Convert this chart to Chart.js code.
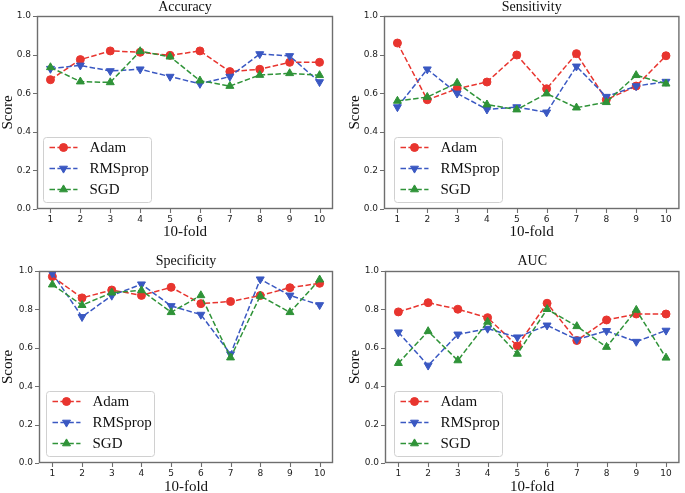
<!DOCTYPE html>
<html>
<head>
<meta charset="utf-8">
<script src="https://cdn.jsdelivr.net/npm/chart.js@4.4.1/dist/chart.umd.min.js"></script>
<style>
  body { margin: 0; background: #fff; width: 685px; height: 493px; position: relative; overflow: hidden; }
  .panel { position: absolute; }
</style>
</head>
<body>
<div class="panel" style="left:0;top:0;width:340px;height:245px"><canvas id="acc"></canvas></div>
<div class="panel" style="left:340px;top:0;width:345px;height:245px"><canvas id="sens"></canvas></div>
<div class="panel" style="left:0;top:245px;width:340px;height:248px"><canvas id="spec"></canvas></div>
<div class="panel" style="left:340px;top:245px;width:345px;height:248px"><canvas id="auc"></canvas></div>
<script>
const folds = [1, 2, 3, 4, 5, 6, 7, 8, 9, 10]
const optimizers = ["Adam", "RMSprop", "SGD"]
const yTicks = [0, 0.2, 0.4, 0.6, 0.8, 1.0]

const accAdam    = [0.670, 0.774, 0.819, 0.812, 0.796, 0.819, 0.712, 0.724, 0.760, 0.760]
const accRMSprop = [0.727, 0.744, 0.715, 0.724, 0.686, 0.649, 0.686, 0.803, 0.793, 0.658]
const accSGD     = [0.734, 0.660, 0.656, 0.817, 0.789, 0.665, 0.637, 0.694, 0.703, 0.693]

const sensAdam    = [0.860, 0.566, 0.623, 0.658, 0.798, 0.623, 0.805, 0.566, 0.637, 0.794]
const sensRMSprop = [0.528, 0.724, 0.599, 0.516, 0.528, 0.501, 0.739, 0.582, 0.637, 0.660]
const sensSGD     = [0.560, 0.580, 0.653, 0.541, 0.515, 0.598, 0.525, 0.553, 0.693, 0.649]

const specAdam    = [0.971, 0.860, 0.901, 0.873, 0.915, 0.830, 0.841, 0.872, 0.913, 0.936]
const specRMSprop = [0.988, 0.761, 0.872, 0.931, 0.818, 0.773, 0.567, 0.957, 0.873, 0.823]
const specSGD     = [0.929, 0.822, 0.887, 0.899, 0.785, 0.873, 0.549, 0.870, 0.785, 0.955]

const aucAdam    = [0.787, 0.835, 0.801, 0.757, 0.610, 0.832, 0.638, 0.745, 0.776, 0.776]
const aucRMSprop = [0.681, 0.508, 0.670, 0.700, 0.655, 0.717, 0.643, 0.688, 0.632, 0.690]
const aucSGD     = [0.520, 0.686, 0.534, 0.735, 0.568, 0.801, 0.712, 0.604, 0.797, 0.548]

const colors = ["#e8352f", "#3a58c2", "#2f9338"]
const markers = [
  { pointStyle: "circle", rotation: 0, radius: 4 },
  { pointStyle: "triangle", rotation: 180, radius: 4.6 },
  { pointStyle: "triangle", rotation: 0, radius: 4.6 }
]
const serif = "'Liberation Serif', 'DejaVu Serif', serif"
const sans = "'DejaVu Sans', sans-serif"
const spine = "#6e6e6e"

// frame, tick marks, title and the in-axes legend, drawn the matplotlib way
const panelDeco = {
  id: "panelDeco",
  afterDraw(chart, args, opts) {
    const ctx = chart.ctx
    const a = chart.chartArea
    const xs = chart.scales.x, ys = chart.scales.y
    ctx.save()
    ctx.setLineDash([])
    ctx.strokeStyle = spine
    ctx.lineWidth = 1.4
    ctx.strokeRect(a.left + 0.5, a.top + 0.5, a.right - a.left - 1, a.bottom - a.top - 1)
    ctx.lineWidth = 1.1
    ctx.beginPath()
    xs.ticks.forEach(tk => {
      const px = Math.round(xs.getPixelForValue(tk.value)) + 0.5
      ctx.moveTo(px, a.bottom)
      ctx.lineTo(px, a.bottom + 4)
    })
    ys.ticks.forEach(tk => {
      const py = Math.round(ys.getPixelForValue(tk.value)) + 0.5
      ctx.moveTo(a.left, py)
      ctx.lineTo(a.left - 4, py)
    })
    ctx.stroke()

    ctx.fillStyle = "#111"
    ctx.font = "14px " + serif
    ctx.textAlign = "center"
    ctx.textBaseline = "middle"
    ctx.fillText(opts.title, (a.left + a.right) / 2, a.top - opts.titleGap)

    // legend
    const bx = Math.round(a.left) + opts.legendDx + 0.5, bw = 108, bh = 65
    const by = Math.round(a.bottom) - opts.legendDy - bh + 0.5
    ctx.globalAlpha = 0.85
    ctx.fillStyle = "#fff"
    ctx.beginPath()
    ctx.moveTo(bx + 3, by)
    ctx.arcTo(bx + bw, by, bx + bw, by + bh, 3)
    ctx.arcTo(bx + bw, by + bh, bx, by + bh, 3)
    ctx.arcTo(bx, by + bh, bx, by, 3)
    ctx.arcTo(bx, by, bx + bw, by, 3)
    ctx.closePath()
    ctx.fill()
    ctx.globalAlpha = 1
    ctx.lineWidth = 1
    ctx.strokeStyle = "#d0d0d0"
    ctx.stroke()
    chart.data.datasets.forEach((ds, i) => {
      const yy = by + 10 + i * 21
      ctx.strokeStyle = ds.borderColor
      ctx.lineWidth = 1.5
      ctx.setLineDash([5.5, 2.4])
      ctx.beginPath()
      ctx.moveTo(bx + 6, yy)
      ctx.lineTo(bx + 34, yy)
      ctx.stroke()
      ctx.setLineDash([])
      ctx.fillStyle = ds.borderColor
      ctx.lineWidth = 1
      Chart.helpers.drawPoint(ctx, {
        pointStyle: ds.pointStyle, rotation: ds.rotation, radius: ds.pointRadius, borderWidth: 1
      }, bx + 20, yy)
      ctx.fillStyle = "#111"
      ctx.font = "15px " + serif
      ctx.textAlign = "left"
      ctx.fillText(ds.label, bx + 46, yy + 1)
    })
    ctx.restore()
  }
}
Chart.register(panelDeco)

function makePanel(id, title, series, box) {
  const W = box.w, H = box.h
  const datasets = optimizers.map((name, i) => ({
    label: name,
    data: folds.map((f, k) => ({ x: f, y: series[i][k] })),
    borderColor: colors[i],
    backgroundColor: colors[i],
    pointBackgroundColor: colors[i],
    pointBorderColor: colors[i],
    borderWidth: 1.5,
    borderDash: [5.5, 2.4],
    pointStyle: markers[i].pointStyle,
    rotation: markers[i].rotation,
    pointRadius: markers[i].radius,
    pointBorderWidth: 1,
    tension: 0,
    order: 3 - i
  }))
  new Chart(document.getElementById(id), {
    type: "line",
    data: { datasets },
    options: {
      responsive: true,
      maintainAspectRatio: false,
      animation: false,
      events: [],
      layout: { padding: { left: 0, top: box.top, right: W - box.right, bottom: 0 } },
      plugins: {
        legend: { display: false },
        tooltip: { enabled: false },
        panelDeco: { title, titleGap: box.titleGap, legendDx: box.legendDx, legendDy: box.legendDy }
      },
      scales: {
        x: {
          type: "linear", min: 0.55, max: 10.45,
          afterFit(s) { s.height = H - box.bottom },
          grid: { display: false, drawTicks: false },
          border: { display: false },
          ticks: { stepSize: 1, includeBounds: false, color: "#222", padding: 5, font: { family: sans, size: 9 } },
          title: { display: true, text: "10-fold", color: "#111", font: { family: serif, size: 15 }, padding: { top: 0, bottom: box.xTitlePad } }
        },
        y: {
          type: "linear", min: 0, max: 1,
          afterFit(s) { s.width = box.left },
          afterBuildTicks(s) { s.ticks = yTicks.map(v => ({ value: v })) },
          grid: { display: false, drawTicks: false },
          border: { display: false },
          ticks: { color: "#222", padding: 6, font: { family: sans, size: 9 }, callback: v => v.toFixed(1) },
          title: { display: true, text: "Score", color: "#111", font: { family: serif, size: 15 }, padding: { top: box.yTitlePad, bottom: 0 } }
        }
      }
    }
  })
}

makePanel("acc", "Accuracy", [accAdam, accRMSprop, accSGD],
  { w: 340, h: 245, left: 37, right: 333, top: 16, bottom: 209, titleGap: 9, legendDx: 6, legendDy: 7, xTitlePad: 4, yTitlePad: -1 })
makePanel("sens", "Sensitivity", [sensAdam, sensRMSprop, sensSGD],
  { w: 345, h: 245, left: 44, right: 343, top: 16, bottom: 209, titleGap: 9, legendDx: 10, legendDy: 7, xTitlePad: 4, yTitlePad: 6 })
makePanel("spec", "Specificity", [specAdam, specRMSprop, specSGD],
  { w: 340, h: 248, left: 39, right: 333, top: 26, bottom: 218, titleGap: 10, legendDx: 7, legendDy: 7, xTitlePad: -3, yTitlePad: -1 })
makePanel("auc", "AUC", [aucAdam, aucRMSprop, aucSGD],
  { w: 345, h: 248, left: 45, right: 343, top: 26, bottom: 218, titleGap: 10, legendDx: 9, legendDy: 7, xTitlePad: -3, yTitlePad: 6 })
</script>
</body>
</html>
